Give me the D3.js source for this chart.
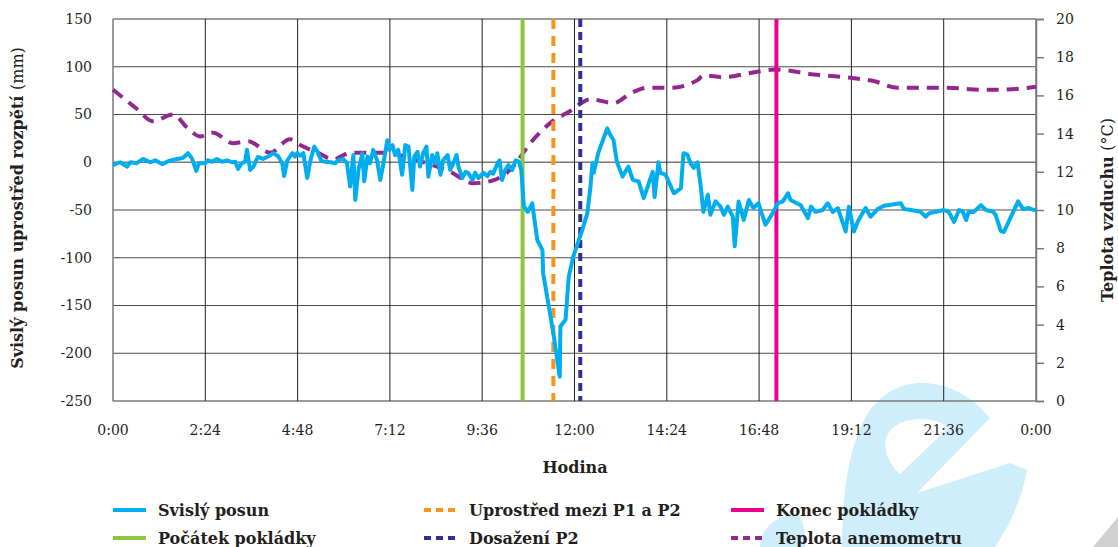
<html>
<head>
<meta charset="utf-8">
<script src="https://d3js.org/d3.v7.min.js"></script>
<style>
  body { margin: 0; background: #fff; }
  text { font-family: "DejaVu Serif", serif; fill: #231f20; }
</style>
</head>
<body>
<svg id="chart" width="1118" height="547"></svg>
<script>
// minutes since midnight / vertical displacement (mm)
var posunMin = [0,11,22,27,37,47,58,66,77,86,100,109,117,123,130,134,144,148,155,162,170,178,186,191,195,201,206,209,214,219,226,234,242,250,258,264,267,272,280,284,287,292,297,303,308,314,319,325,331,339,347,351,359,365,370,375,378,383,389,392,397,401,406,412,417,422,428,431,436,440,445,451,456,461,467,470,475,479,484,489,492,498,503,506,511,515,522,526,531,536,539,545,550,554,561,565,570,578,584,589,593,600,603,607,612,617,623,628,633,637,641,647,654,662,670,671,687,697,698,706,711,718,732,740,745,748,750,757,771,776,781,786,795,804,811,820,828,842,845,851,854,862,875,886,890,896,901,906,912,917,921,928,932,940,948,953,959,967,970,976,984,992,999,1007,1018,1029,1037,1045,1053,1057,1073,1084,1089,1096,1107,1115,1123,1131,1143,1148,1156,1162,1174,1182,1193,1203,1229,1234,1245,1260,1268,1273,1296,1304,1312,1320,1326,1331,1335,1343,1354,1362,1373,1377,1385,1390,1401,1412,1420,1429,1437,1440];
var posunMm = [-3,0,-4.5,0,-1,3.5,0,2,-2,1,3.5,4.5,9.5,4,-9,-1,-1,2,0.5,3.5,0.5,2,0,0.5,-7,-1,0.5,13,-8,-4.5,5.5,3.5,6,9.5,6,-1,-14.5,2,9.5,6,9.5,7,9.5,-16.5,2,16.5,11,1.5,0.5,0,-1,2,3.5,-1,-25.5,7.5,-39.5,-8,9.5,-20,6,-1,13,2,-18.5,-1,23,13,18,7.5,13,-13,18,16.5,-29,6,11,-4.5,9.5,16.5,-15,7.5,-1,9.5,-13,2,7.5,-8,-1,7.5,-5,-16.5,-10,-11,-18.5,-11,-16.5,-11,-14.5,-10,-12,-1,2,-18.5,-8,-3,-8,2,1,-8,-46,-52,-43,-81.5,-92,-116,-179,-224.5,-172,-165,-120,-99,-71,-53.5,-25.5,-1,-11,9.5,35.5,28.5,23,0.5,-15,-4.5,-18.5,-20,-37.5,-10,-36.5,0,-11,-13,-32.5,-27,9.5,8,-1,-6,0,-25.5,-52,-34,-55,-41,-46.5,-55,-46.5,-57,-88,-41,-60.5,-39.5,-48,-43,-65.5,-53.5,-43,-41,-32.5,-39.5,-45,-58.5,-46.5,-52,-50,-43,-52,-48,-72.5,-46.5,-72.5,-62,-48,-57,-49,-45.5,-43,-49,-50,-52,-57,-53.5,-50,-52,-62.5,-50,-52,-60.5,-52,-52,-45,-50,-52,-55,-72,-73,-57,-41,-49,-48,-50,-50];

// air temperature from anemometer (°C)
var teplotaMin = [0,37,62,94,116,136,156,187,211,245,276,292,319,344,370,397,422,475,526,562,593,625,651,682,714,745,781,807,834,870,912,921,953,990,1034,1093,1156,1187,1224,1260,1302,1354,1385,1440];
var teplotaC = [16.3,15.3,14.65,15.0,14.3,13.85,14.05,13.5,13.6,13.0,13.7,13.4,13.0,12.65,13.0,13.0,13.0,12.6,12.0,11.4,11.55,12.3,13.5,14.55,15.2,15.8,15.6,16.1,16.4,16.4,16.8,17.05,16.95,17.15,17.35,17.1,16.9,16.75,16.4,16.4,16.4,16.3,16.3,16.45];

// event markers (minutes)
var udalosti = ["Počátek pokládky", "Uprostřed mezi P1 a P2", "Dosažení P2", "Konec pokládky"];
var udalostiMin = [639, 687, 729, 1035];

var xTicks = [0,144,288,432,576,720,864,1008,1152,1296,1440];
var xTickLabels = ["0:00","2:24","4:48","7:12","9:36","12:00","14:24","16:48","19:12","21:36","0:00"];
var yLeftTicks = [150,100,50,0,-50,-100,-150,-200,-250];
var yRightTicks = [0,2,4,6,8,10,12,14,16,18,20];

var legendItems = ["Svislý posun","Uprostřed mezi P1 a P2","Konec pokládky","Počátek pokládky","Dosažení P2","Teplota anemometru"];
var legendColors = ["#00aeef","#f7941d","#ec008c","#8dc63f","#2e3192","#92278f"];
var legendDash = [null,"7,5",null,null,"7,5","7,5"];

var svg = d3.select("#chart");
var pLeft = 113, pRight = 1036, pTop = 19, pBottom = 401;

// watermark logo behind the chart
var wm = svg.append("g");
wm.append("path")
  .attr("d", "M842,547 C842,490 850,440 870,410 C885,390 905,382 925,383 C955,385 975,400 990,418 L917,493 L1010,463 L1027,470 C1022,500 1008,528 995,547 Z " +
             "M900,474 C880,455 880,430 903,422 C922,416 940,420 948,428 Z")
  .attr("fill", "#cdeefa")
  .attr("fill-rule", "evenodd");
wm.append("path")
  .attr("d", "M760,547 C760,530 775,515 795,514 C802,514 806,530 805,547 Z")
  .attr("fill", "#cdeefa");
wm.append("path")
  .attr("d", "M1093,547 L1118,517 L1118,547 Z")
  .attr("fill", "#d0d0d0");

var x = d3.scaleLinear().domain([0,1440]).range([pLeft,pRight]);
var yL = d3.scaleLinear().domain([-250,150]).range([pBottom,pTop]);
var yR = d3.scaleLinear().domain([0,20]).range([pBottom,pTop]);

// grid
svg.append("g").selectAll("line")
  .data(yLeftTicks)
  .enter().append("line")
    .attr("x1", pLeft).attr("x2", pRight)
    .attr("y1", function(d){ return yL(d); })
    .attr("y2", function(d){ return yL(d); })
    .style("stroke", function(d){ return (d == 0 || d == 150 || d == -250) ? "#7a7a7a" : "#4a4a4a"; })
    .style("stroke-width", function(d){ return (d == 0 || d == -250 || d == 150) ? 1.5 : 1; });

svg.append("g").selectAll("line")
  .data(xTicks)
  .enter().append("line")
    .attr("y1", pTop).attr("y2", pBottom)
    .attr("x1", function(d){ return x(d); })
    .attr("x2", function(d){ return x(d); })
    .style("stroke", function(d){ return (d == 0 || d == 1440) ? "#7a7a7a" : "#222"; })
    .style("stroke-width", function(d){ return (d == 0 || d == 1440) ? 1.5 : 1; });

// right axis
var rAxis = svg.append("g")
  .attr("transform", "translate(" + pRight + ",0)")
  .call(d3.axisRight(yR).tickValues(yRightTicks).tickSize(8).tickPadding(12));
rAxis.select(".domain").style("stroke", "#7a7a7a").style("stroke-width", 1.5);
rAxis.selectAll(".tick line").style("stroke", "#7a7a7a").style("stroke-width", 1.5);
rAxis.selectAll("text").style("font-family", "DejaVu Serif").style("font-size", "14px").style("fill", "#231f20");

// left labels
svg.append("g").selectAll("text")
  .data(yLeftTicks)
  .enter().append("text")
    .attr("x", 92)
    .attr("y", function(d){ return yL(d); })
    .attr("dy", "0.35em")
    .attr("text-anchor", "end")
    .style("font-size", "14px")
    .text(function(d){ return d; });

// x labels
svg.append("g").selectAll("text")
  .data(xTicks)
  .enter().append("text")
    .attr("x", function(d){ return x(d); })
    .attr("y", 430)
    .attr("dy", "0.35em")
    .attr("text-anchor", "middle")
    .style("font-size", "14px")
    .text(function(d,i){ return xTickLabels[i]; });

// axis titles
svg.append("text")
  .attr("x", 575).attr("y", 467).attr("dy", "0.35em")
  .attr("text-anchor", "middle")
  .style("font-size", "16px").style("font-weight", "bold")
  .text("Hodina");

var lt = svg.append("text")
  .attr("transform", "translate(23,208) rotate(-90)")
  .attr("text-anchor", "middle")
  .style("font-size", "16px");
lt.append("tspan").style("font-weight", "bold").text("Svislý posun uprostřed rozpětí ");
lt.append("tspan").text("(mm)");

var rt = svg.append("text")
  .attr("transform", "translate(1113,210) rotate(-90)")
  .attr("text-anchor", "middle")
  .style("font-size", "16px");
rt.append("tspan").style("font-weight", "bold").text("Teplota vzduchu ");
rt.append("tspan").text("(°C)");

// temperature line
var teplota = teplotaMin.map(function(m,i){ return [m, teplotaC[i]]; });
svg.append("path")
  .datum(teplota)
  .attr("d", d3.line()
    .x(function(d){ return x(d[0]); })
    .y(function(d){ return yR(d[1]); })
    .curve(d3.curveMonotoneX))
  .style("fill", "none")
  .style("stroke", "#92278f")
  .style("stroke-width", 4)
  .style("stroke-dasharray", "12,8");

// event markers
var markerColors = ["#8dc63f","#f7941d","#2e3192","#ec008c"];
var markerDash = [null,"10,7","8,5",null];
svg.append("g").selectAll("line")
  .data(udalostiMin)
  .enter().append("line")
    .attr("x1", function(d){ return x(d); })
    .attr("x2", function(d){ return x(d); })
    .attr("y1", pTop).attr("y2", pBottom)
    .style("stroke", function(d,i){ return markerColors[i]; })
    .style("stroke-width", 4)
    .style("stroke-dasharray", function(d,i){ return markerDash[i]; });

// displacement line
var posun = posunMin.map(function(m,i){ return [m, posunMm[i]]; });
svg.append("path")
  .datum(posun)
  .attr("d", d3.line()
    .x(function(d){ return x(d[0]); })
    .y(function(d){ return yL(d[1]); }))
  .style("fill", "none")
  .style("stroke", "#00aeef")
  .style("stroke-width", 4)
  .style("stroke-linejoin", "round");

// legend
var colX = [113, 424, 731];
var rowY = [510, 538];
var leg = svg.append("g").selectAll("g")
  .data(legendItems)
  .enter().append("g")
    .attr("transform", function(d,i){ return "translate(" + colX[i % 3] + "," + rowY[Math.floor(i / 3)] + ")"; });
leg.append("line")
  .attr("x1", 0).attr("x2", 33).attr("y1", 0).attr("y2", 0)
  .style("stroke", function(d,i){ return legendColors[i]; })
  .style("stroke-width", 4)
  .style("stroke-dasharray", function(d,i){ return legendDash[i]; });
leg.append("text")
  .attr("x", 45).attr("y", 0).attr("dy", "0.35em")
  .style("font-size", "16px").style("font-weight", "bold")
  .text(function(d){ return d; });
</script>
</body>
</html>
